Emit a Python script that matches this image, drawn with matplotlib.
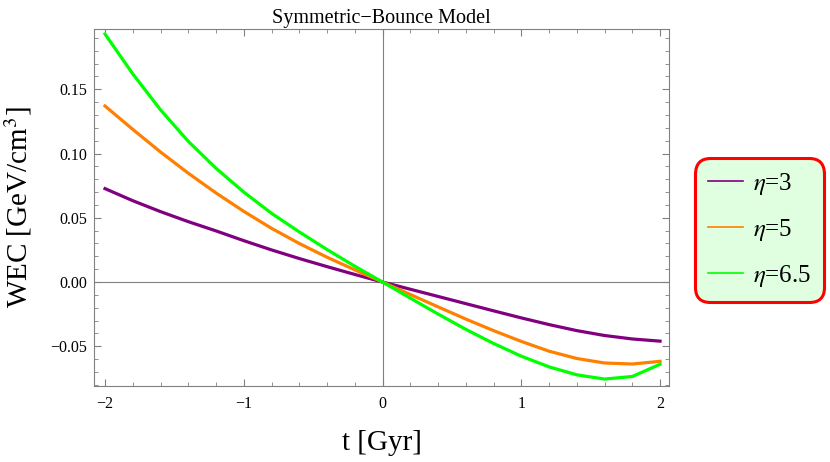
import numpy as np
import matplotlib.pyplot as plt
from matplotlib.ticker import MultipleLocator, FuncFormatter
from matplotlib.lines import Line2D

plt.rcParams['font.family'] = ['Liberation Serif', 'DejaVu Serif']
plt.rcParams['mathtext.fontset'] = 'stix'

# values
t = [-2.0, -1.8, -1.6, -1.4, -1.2, -1.0, -0.8, -0.6, -0.4, -0.2, 0.0,
     0.2, 0.4, 0.6, 0.8, 1.0, 1.2, 1.4, 1.6, 1.8, 2.0]

wec_eta3 = [0.0727, 0.0633, 0.0548, 0.0470, 0.0398, 0.0322, 0.0250, 0.0183, 0.0120, 0.0059, 0.0,
            -0.0056, -0.0112, -0.0168, -0.0224, -0.0279, -0.0331, -0.0378, -0.0416, -0.0443, -0.0460]
wec_eta5 = [0.1370, 0.1188, 0.1012, 0.0847, 0.0693, 0.0550, 0.0418, 0.0300, 0.0193, 0.0095, 0.0,
            -0.0097, -0.0193, -0.0288, -0.0378, -0.0462, -0.0538, -0.0595, -0.0630, -0.0638, -0.0617]
wec_eta65 = [0.1930, 0.1620, 0.1340, 0.1095, 0.0885, 0.0700, 0.0535, 0.0390, 0.0253, 0.0123, 0.0,
             -0.0125, -0.0249, -0.0368, -0.0478, -0.0577, -0.0660, -0.0722, -0.0755, -0.0735, -0.0640]

labels = ['$\\eta$=3', '$\\eta$=5', '$\\eta$=6.5']
colors = ['#800080', '#ff8000', '#00ff00']

fig = plt.figure(figsize=(8.3, 4.62), dpi=100)
ax = fig.add_axes([0.1133, 0.1645, 0.6928, 0.7727])

ax.axhline(0, color='#808080', lw=0.8, zorder=1)
ax.axvline(0, color='#808080', lw=0.8, zorder=1)

for vals, c in zip([wec_eta3, wec_eta5, wec_eta65], colors):
    ax.plot(t, vals, color=c, lw=2.3, zorder=3)

ax.set_xlim(-2.079, 2.065)
ax.set_ylim(-0.0809, 0.1969)

ax.xaxis.set_major_locator(MultipleLocator(1))
ax.xaxis.set_minor_locator(MultipleLocator(0.2))
ax.yaxis.set_major_locator(MultipleLocator(0.05))
ax.yaxis.set_minor_locator(MultipleLocator(0.01))


def fmt_x(v, pos):
    s = f"{v:.0f}"
    return s.replace('-', '\u2212') if abs(v) > 1e-9 else '0'


def fmt_y(v, pos):
    if abs(v) < 1e-9:
        return '0.00'
    return f"{v:.2f}".replace('-', '\u2212')


ax.xaxis.set_major_formatter(FuncFormatter(fmt_x))
ax.yaxis.set_major_formatter(FuncFormatter(fmt_y))

ax.tick_params(which='both', direction='in', top=True, right=True,
               color='#808080', labelcolor='black', labelsize=11.5)
ax.tick_params(which='major', length=5, width=0.8)
ax.tick_params(which='minor', length=3, width=0.6)
ax.tick_params(axis='x', pad=7)
ax.tick_params(axis='y', pad=5)
for sp in ax.spines.values():
    sp.set_edgecolor('#808080')
    sp.set_linewidth(0.8)

ax.set_title('Symmetric\u2212Bounce Model', fontsize=14.5, pad=4)
ax.set_xlabel('t [Gyr]', fontsize=21, labelpad=13)
ax.set_ylabel('WEC [GeV/cm$^3$]', fontsize=21, labelpad=12)

handles = [Line2D([0], [0], color=c, lw=1.2) for c in colors]
leg = fig.legend(handles, labels, loc='center', bbox_to_anchor=(0.915, 0.502),
                 fontsize=18, handlelength=1.4, handletextpad=0.42,
                 labelspacing=0.8, borderpad=0.52, fancybox=True,
                 edgecolor='red', facecolor='#e0ffe0', framealpha=1)
leg.get_frame().set_linewidth(2.2)
leg.get_frame().set_boxstyle('round,pad=0,rounding_size=0.62')

fig.savefig('out.png', dpi=100)
